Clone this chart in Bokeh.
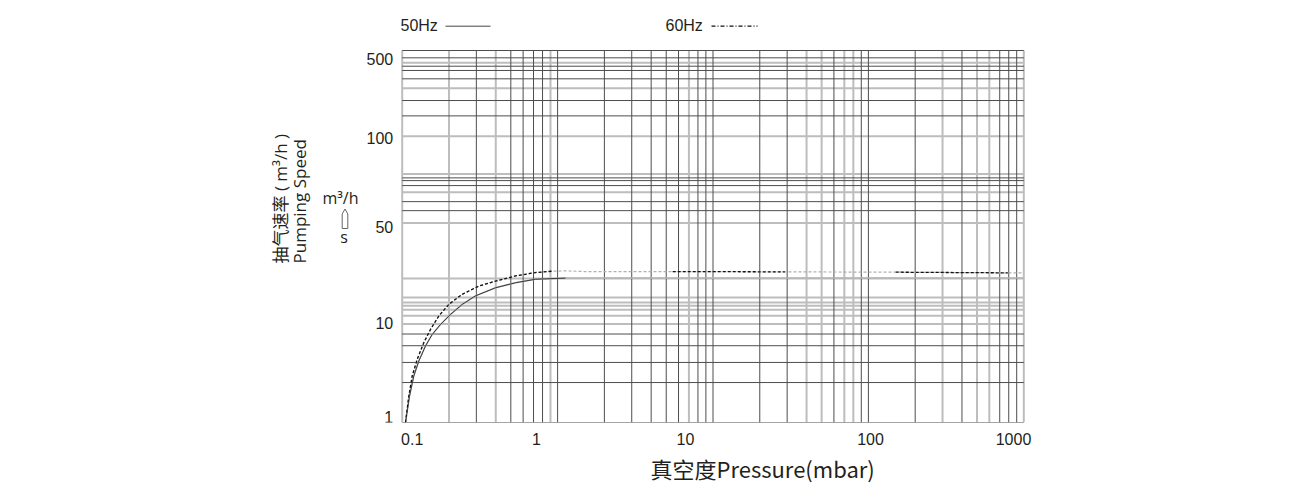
import math
from bokeh.plotting import figure
from bokeh.models import FixedTicker, Range1d, Title
from bokeh.core.properties import value
from bokeh.embed import file_html
from bokeh.resources import INLINE

# ---------------- data ----------------
pressure_50 = [0.1050, 0.1114, 0.1187, 0.1279, 0.1412, 0.1560, 0.1764, 0.2046,
               0.2432, 0.2962, 0.3984, 0.5359, 0.7207, 1.124, 1000]
speed_50 = [1.0, 1.63, 2.37, 3.13, 4.14, 5.13, 6.18, 7.44,
            8.96, 10.5, 12.2, 13.4, 14.3, 14.6, 14.6]

pressure_60 = [0.1050, 0.1103, 0.1160, 0.1249, 0.1377, 0.1521, 0.1720, 0.1995,
               0.2432, 0.3111, 0.3984, 0.5359, 0.7207, 0.9231, 1.124, 1.5,
               5.5, 29, 150, 790, 1000]
speed_60 = [1.0, 1.63, 2.37, 3.23, 4.40, 5.63, 7.22, 8.96,
            10.8, 12.6, 13.8, 15.2, 16.2, 16.6, 16.7, 16.5,
            16.5, 16.4, 16.3, 16.1, 16.1]
dark_spans_60 = [(0.1, 1.0), (5.5, 29), (150, 790)]
dark_span_50 = (0.1, 1.2)

x_tick_labels = ["0.1", "1", "10", "100", "1000"]
x_tick_pos = [0.116, 0.7315, 6.654, 103.2, 858.5]
y_tick_labels = ["1", "10", "50", "100", "500"]
y_tick_pos = [1.10, 6.32, 38.0, 195.6, 857.0]

x_lim = [0.1, 1000]
y_lim = [1, 1000]
x_grid_dark = [0.3, 0.5, 0.6, 0.7, 0.8, 1, 2, 3, 4, 5, 6, 8, 9, 10, 20, 30,
               60, 90, 100, 200, 400, 700, 800, 900]
x_grid_gray = [0.1, 0.2, 0.4, 0.9, 7, 40, 50, 70, 80, 300, 500, 600, 1000]
y_grid_dark = [1, 2.10, 3.05, 4.16, 5.17, 51.1, 60.4, 81.4, 89.3, 93.9,
               297, 395, 591, 690, 747, 873, 1000]
y_grid_gray = [6.22, 7.26, 8.11, 8.75, 9.29, 10.19, 14.53, 40.7, 71.8, 101.1,
               203.4, 496.4, 795.6]

legend_names = ["50Hz", "60Hz"]
x_title = "真空度Pressure(mbar)"
y_title_cn = "抽气速率 ( m³/h )"
y_title_en = "Pumping Speed"
unit_note = ["m³/h", "s"]

# ---------------- layout (pixels) ----------------
W, H = 1296, 496
GL, GR, GT, GB = 401.7, 1023.3, 50.0, 422.0     # grid box in page px
FL, FR, FT = 240, 1040, 5                         # frame extents
DX = (GR - GL) / math.log10(x_lim[1] / x_lim[0])
DY = (GB - GT) / math.log10(y_lim[1] / y_lim[0])

def xd(px):
    return x_lim[0] * 10 ** ((px - GL) / DX)

def yd(py):
    return y_lim[0] * 10 ** ((GB - py) / DY)

DARK = "#4d4d4d"
GRAY = "#bdbdbd"
TXT = "#231f20"
LAT = "Liberation Sans, Noto Sans CJK SC, sans-serif"
HUM = "Open Sans, Noto Sans CJK SC, sans-serif"
CJK = "Noto Sans CJK SC"

p = figure(width=W, height=H, x_axis_type="log", y_axis_type="log",
           x_range=Range1d(xd(FL), xd(FR)), y_range=Range1d(yd(GB), yd(FT)),
           output_backend="svg", toolbar_location=None,
           min_border_left=FL, min_border_right=W - FR,
           min_border_top=FT, min_border_bottom=int(H - GB))
p.outline_line_color = None
p.xgrid.visible = False
p.ygrid.visible = False
p.background_fill_color = "white"
p.border_fill_color = "white"

p.yaxis.fixed_location = x_lim[0]
for ax, pos, labs, stand in [(p.xaxis[0], x_tick_pos, x_tick_labels, 10),
                             (p.yaxis[0], y_tick_pos, y_tick_labels, 9)]:
    ax.ticker = FixedTicker(ticks=pos, minor_ticks=[])
    ax.major_label_overrides = {v: l for v, l in zip(pos, labs)}
    ax.axis_line_color = None
    ax.major_tick_line_color = None
    ax.minor_tick_line_color = None
    ax.major_tick_out = 0
    ax.major_tick_in = 0
    ax.major_label_standoff = stand
    ax.major_label_text_font = "Liberation Sans"
    ax.major_label_text_font_size = "16px"
    ax.major_label_text_color = TXT

# grid lines of the log paper (gray thick first, dark thin on top)
p.segment(x0=x_grid_gray, y0=y_lim[0], x1=x_grid_gray, y1=y_lim[1],
          line_color=GRAY, line_width=2)
p.segment(x0=x_lim[0], y0=y_grid_gray, x1=x_lim[1], y1=y_grid_gray,
          line_color=GRAY, line_width=2)
p.segment(x0=x_grid_dark, y0=y_lim[0], x1=x_grid_dark, y1=y_lim[1],
          line_color=DARK, line_width=1)
p.segment(x0=x_lim[0], y0=y_grid_dark, x1=x_lim[1], y1=y_grid_dark,
          line_color=DARK, line_width=1)

# 50 Hz curve
p.line(pressure_50, speed_50, line_color="#b5b5b5", line_width=1.5)
sel = [(x, y) for x, y in zip(pressure_50, speed_50) if dark_span_50[0] <= x <= dark_span_50[1]]
p.line([s[0] for s in sel], [s[1] for s in sel], line_color="#3a3a3a", line_width=1)

# 60 Hz curve
p.line(pressure_60, speed_60, line_color="#b0b0b0", line_dash="3 2", line_width=1.2)
for lo, hi in dark_spans_60:
    sel = [(x, y) for x, y in zip(pressure_60, speed_60) if lo <= x <= hi]
    p.line([s[0] for s in sel], [s[1] for s in sel], line_color="#111111",
           line_dash="3 2", line_width=1.3)

# legend: label text followed by a line sample
p.text(x=[xd(400), xd(665)], y=[yd(25), yd(25)], text=legend_names,
       text_font=value(LAT), text_font_size="16px", text_color=TXT,
       text_align="left", text_baseline="middle")
p.line([xd(445), xd(490)], [yd(25.7), yd(25.7)], line_color="#444444", line_width=1)
p.line([xd(711), xd(757)], [yd(25.7), yd(25.7)], line_color="#111111",
       line_width=1.2, line_dash="4 2 1 2")

# y title (rotated, two lines, reading upward)
p.text(x=[xd(280)], y=[yd(263)], text=[y_title_cn], angle=math.pi / 2,
       text_font=value(HUM), text_font_size="17px", text_color=TXT,
       text_align="left", text_baseline="middle")
p.text(x=[xd(299)], y=[yd(263)], text=[y_title_en], angle=math.pi / 2,
       text_font=value(HUM), text_font_size="17px", text_color=TXT,
       text_align="left", text_baseline="middle")

# unit note:  m³/h  (narrow up-arrow)  s
p.text(x=[xd(340)], y=[yd(197)], text=[unit_note[0]], text_font=value(HUM),
       text_font_size="16px", text_color=TXT, text_align="center", text_baseline="middle")
arrow_px = [(344.5, 208.5), (347.3, 213.5), (347.3, 228), (341.7, 228), (341.7, 213.5)]
p.patch([xd(a) for a, b in arrow_px], [yd(b) for a, b in arrow_px],
        fill_color="white", line_color="#666666", line_width=1)
p.text(x=[xd(343.5)], y=[yd(236)], text=[unit_note[1]], text_font=value(HUM),
       text_font_size="16px", text_color=TXT, text_align="center", text_baseline="middle")

# x title below the axis
p.add_layout(Title(text=x_title, align="left", offset=650 - FL, standoff=4,
                   text_font=CJK, text_font_size="22px", text_font_style="normal",
                   text_color=TXT), "below")

open("out.html", "w").write(file_html(p, INLINE))
